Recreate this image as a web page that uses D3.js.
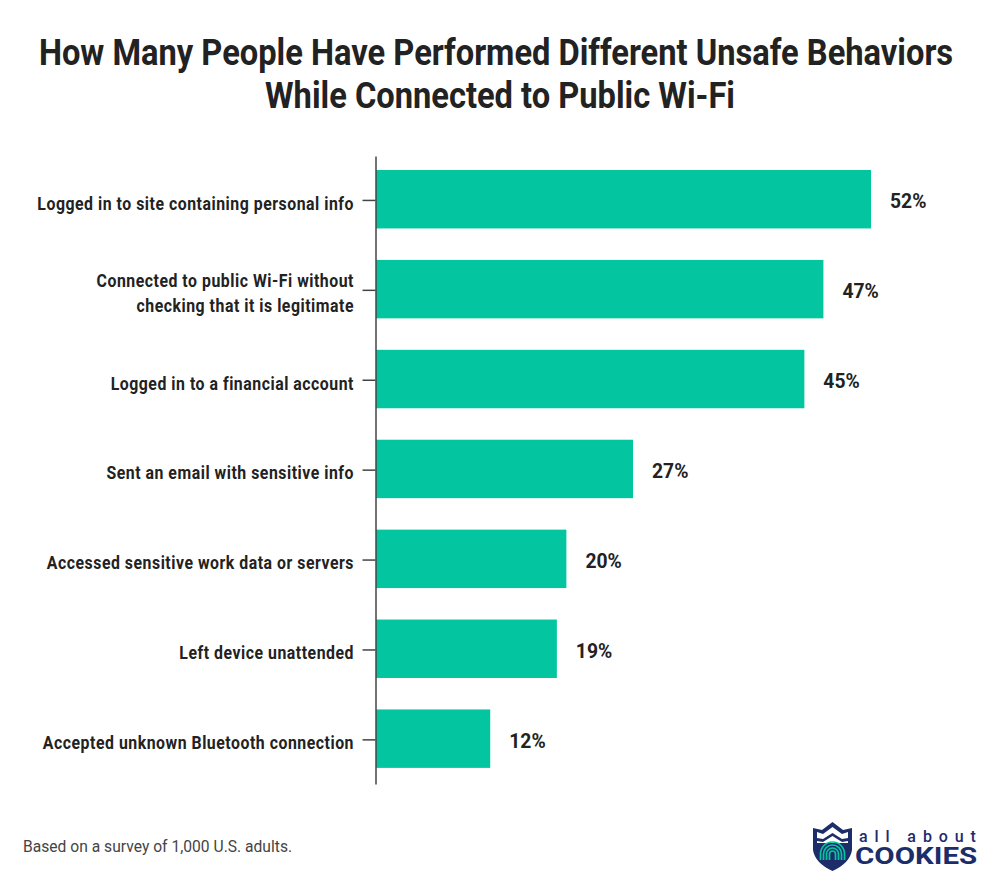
<!DOCTYPE html>
<html>
<head>
<meta charset="utf-8">
<script src="https://cdn.jsdelivr.net/npm/d3@7"></script>
<style>
  html, body { margin: 0; padding: 0; background: #fff; }
  text { font-family: Roboto, sans-serif; fill: #222; }
</style>
</head>
<body>
<svg id="chart" width="1000" height="882"></svg>
<script>
var titleLines = ["How Many People Have Performed Different Unsafe Behaviors", "While Connected to Public Wi-Fi"];
var categories = [
  ["Logged in to site containing personal info"],
  ["Connected to public Wi-Fi without", "checking that it is legitimate"],
  ["Logged in to a financial account"],
  ["Sent an email with sensitive info"],
  ["Accessed sensitive work data or servers"],
  ["Left device unattended"],
  ["Accepted unknown Bluetooth connection"]
];
var values = [52, 47, 45, 27, 20, 19, 12];
var footnote = "Based on a survey of 1,000 U.S. adults.";
var barColor = "#03c6a1";
var navy = "#1d2d69";

var svg = d3.select("#chart");
var keys = categories.map(function (d) { return d.join(" "); });

var x = d3.scaleLinear().domain([0, 52]).range([376, 871]);
var y = d3.scaleBand().domain(keys).range([156, 784])
  .paddingInner(0.35).paddingOuter(0.1675).align(0.465);

// squeezed text, Roboto has no condensed cut here
function squeezed(sel, px, py, anchor, sx) {
  return sel.attr("text-anchor", anchor)
    .attr("transform", "translate(" + px + "," + py + ") scale(" + sx + ",1)");
}

titleLines.forEach(function (line, i) {
  svg.append("text").text(line)
    .style("font-size", "36px").style("font-weight", 700)
    .call(squeezed, 496 + i * 4, 65 + i * 43, "middle", 0.907);
});

svg.selectAll("rect.bar")
  .data(values)
  .enter()
  .append("rect")
  .attr("class", "bar")
  .attr("x", x(0))
  .attr("y", function (d, i) { return y(keys[i]); })
  .attr("width", function (d) { return x(d) - x(0); })
  .attr("height", y.bandwidth())
  .attr("fill", barColor);

var axis = svg.append("g")
  .attr("transform", "translate(375.5,0)")
  .call(d3.axisLeft(y).tickSize(13).tickSizeOuter(0).tickFormat(""));
axis.selectAll("path, line").attr("stroke", "#444").attr("stroke-width", 1.5);
axis.selectAll(".tick line").attr("y1", 1.2).attr("y2", 1.2);

categories.forEach(function (lines, i) {
  var cy = y(keys[i]) + y.bandwidth() / 2;
  lines.forEach(function (line, j) {
    svg.append("text").text(line)
      .style("font-size", "18px").style("font-weight", 700).style("letter-spacing", "0.6px")
      .call(squeezed, 354, cy + 10.5 + (j - (lines.length - 1) / 2) * 25, "end", 0.88);
  });
});

values.forEach(function (d, i) {
  svg.append("text").text(d + "%")
    .style("font-size", "21px").style("font-weight", 700)
    .call(squeezed, x(d) + 19, y(keys[i]) + y.bandwidth() / 2 + 9, "start", 0.92);
});

svg.append("text").text(footnote)
  .style("font-size", "17px").style("fill", "#444")
  .call(squeezed, 23, 852, "start", 0.92);

// logo
var logo = svg.append("g");
logo.append("path")
  .attr("d", "M813 828 L822 830 L832.5 822 L843 830 L852 828 L852 850 Q850 863 832.5 871 Q815 863 813 850 Z")
  .attr("fill", navy);
logo.append("path")
  .attr("d", "M817 832 L823 834 L832.5 827 L842 834 L848 832 L848 838 L842 839 L832.5 833 L823 839 L817 838 Z")
  .attr("fill", "#fff");
logo.append("path")
  .attr("d", "M817 841 L823 842 L832.5 836 L842 842 L848 841 L848 843 L817 843 Z")
  .attr("fill", "#fff");
// fingerprint rings
[3, 6, 9, 12].forEach(function (r) {
  logo.append("path")
    .attr("d", "M" + (832.5 - r) + " 860 V854 A" + r + " " + r + " 0 0 1 " + (832.5 + r) + " 854 V860")
    .attr("fill", "none").attr("stroke", barColor).attr("stroke-width", 1.7);
});
logo.append("text").text("all about")
  .attr("x", 859).attr("y", 842)
  .style("font-size", "16px").style("font-weight", 500).style("letter-spacing", "6.9px").style("fill", navy);
logo.append("text").text("COOKIES")
  .style("font-size", "24px").style("font-weight", 700).style("fill", navy)
  .call(squeezed, 855, 863.5, "start", 1.23);
</script>
</body>
</html>
